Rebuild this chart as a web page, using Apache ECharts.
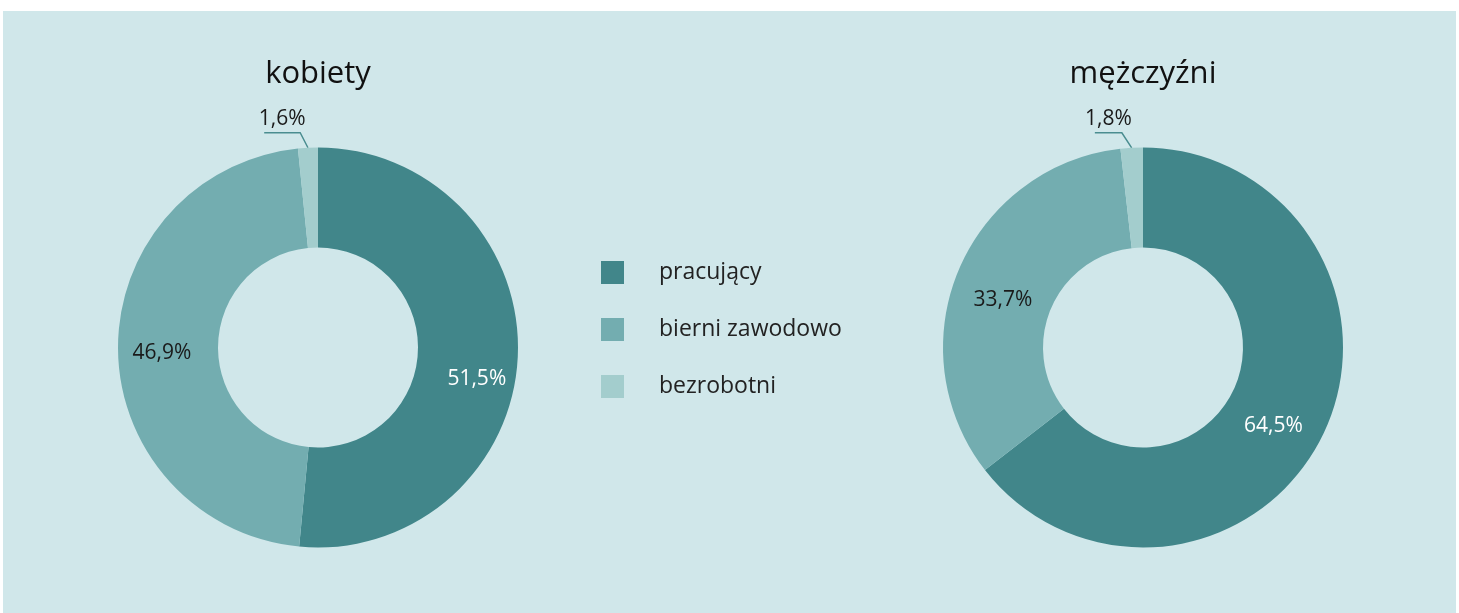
<!DOCTYPE html>
<html>
<head>
<meta charset="utf-8">
<script src="https://cdn.jsdelivr.net/npm/echarts@6/dist/echarts.min.js"></script>
<style>
  html, body { margin: 0; padding: 0; background: #ffffff; }
  #panel { position: absolute; left: 3px; top: 11px; width: 1453px; height: 602px; background: #d0e7ea; }
  #chart { position: absolute; left: 0; top: 0; width: 1459px; height: 613px; }
</style>
</head>
<body>
<div id="panel"></div>
<div id="chart"></div>
<script>
// categories and values (percent)
var categories = ["pracujący", "bierni zawodowo", "bezrobotni"];
var womenValues = [51.5, 46.9, 1.6];
var menValues = [64.5, 33.7, 1.8];
var groupTitles = ["kobiety", "mężczyźni"];

var colors = ["#41868a", "#73adb0", "#a3cdcd"];
var fontName = "Open Sans";

function fmt(v) {
    return String(v).replace(".", ",") + "%";
}

function buildData(values) {
    var out = [];
    for (var i = 0; i < values.length; i++) {
        var item = { name: categories[i], value: values[i] };
        if (i == 0) {
            item.label = { color: "#ffffff" };
        }
        if (i == 2) {
            // small slice gets its label outside with a leader line
            item.label = { position: "outside", color: "#1a1a1a" };
            item.labelLine = { show: true };
        }
        out.push(item);
    }
    return out;
}

// nudges for the inside labels, per slice (tuned by eye)
var womenNudge = [[6, 24], [-3, 5]];
var menNudge = [[-7, 11], [1, 12]];

function makeLabelLayout(nudge, slant) {
    return function (params) {
        if (params.dataIndex < 2) {
            return { dx: nudge[params.dataIndex][0], dy: nudge[params.dataIndex][1] };
        }
        if (!params.labelLinePoints) {
            return {};
        }
        // slanted first segment, label sitting on the horizontal part
        var pts = params.labelLinePoints;
        var p0 = pts[0];
        var p1 = [pts[1][0] - slant, pts[1][1]];
        var p2 = [pts[2][0] - slant, pts[2][1]];
        return {
            x: (p1[0] + p2[0]) / 2,
            y: p1[1] - 14,
            align: "center",
            verticalAlign: "middle",
            labelLinePoints: [p0, p1, p2]
        };
    };
}

function makeSeries(values, cx, nudge, slant, len2) {
    return {
        type: "pie",
        center: [cx, 347.5],
        radius: [100, 200],
        startAngle: 90,
        clockwise: true,
        silent: true,
        avoidLabelOverlap: false,
        label: {
            show: true,
            position: "inside",
            formatter: function (p) { return fmt(p.value); },
            fontFamily: fontName,
            fontSize: 21,
            color: "#1a1a1a"
        },
        labelLine: {
            show: false,
            length: 15,
            length2: len2,
            lineStyle: { color: "#4a8d90", width: 1.5 }
        },
        labelLayout: makeLabelLayout(nudge, slant),
        itemStyle: { borderWidth: 0 },
        data: buildData(values)
    };
}

var chart = echarts.init(document.getElementById("chart"));

var option = {
    backgroundColor: "transparent",
    color: colors,
    animation: false,
    graphic: [
        {
            type: "text",
            x: 318, y: 74,
            style: { text: groupTitles[0], fontFamily: fontName, fontSize: 31, fill: "#111111", align: "center", verticalAlign: "middle" }
        },
        {
            type: "text",
            x: 1143, y: 74,
            style: { text: groupTitles[1], fontFamily: fontName, fontSize: 31, fill: "#111111", align: "center", verticalAlign: "middle" }
        }
    ],
    legend: {
        orient: "vertical",
        left: 596,
        top: 256,
        itemWidth: 23,
        itemHeight: 23,
        itemGap: 34,
        icon: "rect",
        selectedMode: false,
        data: categories,
        textStyle: {
            fontFamily: fontName,
            fontSize: 23,
            color: "#222222",
            padding: [0, 0, 0, 30]
        }
    },
    series: [
        makeSeries(womenValues, 318, womenNudge, 7, 36),
        makeSeries(menValues, 1143, menNudge, 9, 27)
    ]
};

chart.setOption(option);
</script>
</body>
</html>
